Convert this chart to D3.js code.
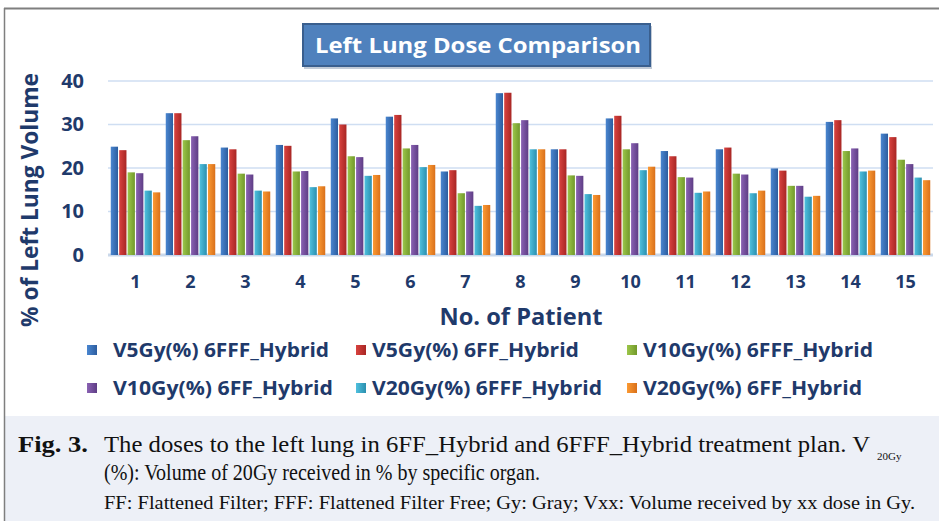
<!DOCTYPE html>
<html>
<head>
<meta charset="utf-8">
<script src="https://cdn.jsdelivr.net/npm/d3@7"></script>
<style>
  body { margin: 0; background: #fff; overflow: hidden; }
  svg { display: block; }
</style>
</head>
<body>
<svg id="chart" width="939" height="521"></svg>
<script>

// patients on the x axis
const patients = ['1', '2', '3', '4', '5', '6', '7', '8', '9', '10', '11', '12', '13', '14', '15']

const seriesNames = [
    'V5Gy(%) 6FFF_Hybrid', 'V5Gy(%) 6FF_Hybrid', 'V10Gy(%) 6FFF_Hybrid',
    'V10Gy(%) 6FF_Hybrid', 'V20Gy(%) 6FFF_Hybrid', 'V20Gy(%) 6FF_Hybrid'
]

const v5FFF = [24.9, 32.6, 24.7, 25.3, 31.4, 31.8, 19.2, 37.2, 24.3, 31.4, 23.9, 24.3, 19.9, 30.6, 27.9]
const v5FF = [24.1, 32.6, 24.3, 25.1, 30.0, 32.2, 19.5, 37.3, 24.3, 32.0, 22.7, 24.7, 19.4, 31.0, 27.1]
const v10FFF = [19.0, 26.4, 18.7, 19.2, 22.7, 24.5, 14.2, 30.3, 18.3, 24.3, 17.9, 18.7, 15.9, 23.9, 21.9]
const v10FF = [18.8, 27.3, 18.5, 19.3, 22.5, 25.3, 14.6, 31.0, 18.2, 25.7, 17.8, 18.5, 15.9, 24.5, 20.9]
const v20FFF = [14.8, 20.9, 14.8, 15.6, 18.2, 20.2, 11.3, 24.3, 14.0, 19.5, 14.3, 14.2, 13.4, 19.2, 17.8]
const v20FF = [14.4, 20.9, 14.6, 15.8, 18.4, 20.7, 11.5, 24.3, 13.8, 20.3, 14.6, 14.8, 13.6, 19.4, 17.2]

const yTicks = [0, 10, 20, 30, 40]

const seriesValues = [v5FFF, v5FF, v10FFF, v10FF, v20FFF, v20FF]

// light / dark ends of each bar's gradient
const colorsLight = ['#4a86d0', '#d8423f', '#9cc64a', '#8a62b3', '#4fc0de', '#fb9a33']
const colorsDark = ['#2c5d9f', '#a82624', '#72992b', '#5e3d85', '#2b8fae', '#d9701a']

const textColor = '#1f3a6b'

const svg = d3.select('#chart')

// frame of the figure
svg.append('rect')
    .attr('x', 5).attr('y', 416)
    .attr('width', 934).attr('height', 105)
    .attr('fill', '#edf0f7')

svg.append('line')
    .attr('x1', 4).attr('x2', 939).attr('y1', 8.5).attr('y2', 8.5)
    .attr('stroke', '#7f7f7f').attr('stroke-width', 2)

svg.append('line')
    .attr('x1', 4.5).attr('x2', 4.5).attr('y1', 8).attr('y2', 521)
    .attr('stroke', '#7f7f7f').attr('stroke-width', 1.5)

const defs = svg.append('defs')
seriesNames.forEach((s, i) => {
    const grad = defs.append('linearGradient')
        .attr('id', 'grad' + i)
        .attr('x1', '0%').attr('x2', '100%').attr('y1', '0%').attr('y2', '0%')
    grad.append('stop').attr('offset', '0%').attr('stop-color', colorsLight[i])
    grad.append('stop').attr('offset', '100%').attr('stop-color', colorsDark[i])
})

const margin = { top: 81, left: 108, right: 6 }
const width = 939
const innerWidth = width - margin.left - margin.right
const innerHeight = 255 - margin.top

const xScale = d3.scaleBand()
    .domain(patients)
    .range([0, innerWidth])
    .paddingInner(0.1)
    .paddingOuter(0.05)

const subScale = d3.scaleBand()
    .domain(d3.range(seriesNames.length))
    .range([0, xScale.bandwidth()])
    .paddingInner(0.14)

const yScale = d3.scaleLinear()
    .domain([0, 40])
    .range([innerHeight, 0])

const g = svg.append('g')
    .attr('transform', 'translate(' + margin.left + ',' + margin.top + ')')

// grid lines
g.selectAll('.grid')
    .data(yTicks)
    .enter()
    .append('line')
    .attr('x1', 0).attr('x2', innerWidth)
    .attr('y1', d => yScale(d)).attr('y2', d => yScale(d))
    .attr('stroke', d => d === 0 ? '#cad8ea' : '#cfdef2')
    .attr('stroke-width', d => d === 0 ? 3 : 1.5)

// y axis labels
const yAxis = d3.axisLeft(yScale).tickValues(yTicks).tickSize(0).tickPadding(24)
g.append('g').call(yAxis)
    .call(a => a.select('.domain').remove())
    .selectAll('text')
    .style('font-family', 'Open Sans')
    .style('font-weight', 'bold')
    .style('font-size', '20px')
    .attr('fill', textColor)

// x axis labels
const xAxis = d3.axisBottom(xScale).tickSize(0).tickPadding(20)
g.append('g').call(xAxis)
    .attr('transform', 'translate(0,' + innerHeight + ')')
    .call(a => a.select('.domain').remove())
    .selectAll('text')
    .style('font-family', 'Open Sans')
    .style('font-weight', 'bold')
    .style('font-size', '18px')
    .attr('fill', textColor)

// bars
const groups = g.selectAll('.patient')
    .data(patients)
    .enter()
    .append('g')
    .attr('transform', d => 'translate(' + xScale(d) + ',0)')

groups.selectAll('rect')
    .data((p, pi) => seriesValues.map((vals, si) => ({ si: si, value: vals[pi] })))
    .enter()
    .append('rect')
    .attr('x', d => subScale(d.si))
    .attr('y', d => yScale(d.value))
    .attr('width', subScale.bandwidth())
    .attr('height', d => innerHeight - yScale(d.value))
    .attr('fill', d => 'url(#grad' + d.si + ')')

// title box
svg.append('rect')
    .attr('x', 304).attr('y', 26)
    .attr('width', 348).attr('height', 43)
    .attr('fill', '#9aa9bd').attr('opacity', 0.6)
svg.append('rect')
    .attr('x', 303).attr('y', 24)
    .attr('width', 347).attr('height', 42)
    .attr('fill', '#4f81bd')
    .attr('stroke', '#3a5f8e').attr('stroke-width', 2)

svg.append('text')
    .attr('x', 315).attr('y', 53)
    .attr('textLength', 326).attr('lengthAdjust', 'spacingAndGlyphs')
    .style('font-family', 'Open Sans')
    .style('font-weight', 'bold')
    .style('font-size', '22px')
    .attr('fill', '#fff')
    .text('Left Lung Dose Comparison')

// axis titles
svg.append('text')
    .attr('transform', 'translate(38,200) rotate(-90)')
    .attr('text-anchor', 'middle')
    .attr('textLength', 254).attr('lengthAdjust', 'spacingAndGlyphs')
    .style('font-family', 'Open Sans')
    .style('font-weight', 'bold')
    .style('font-size', '24px')
    .attr('fill', textColor)
    .text('% of Left Lung Volume')

svg.append('text')
    .attr('x', 521).attr('y', 325)
    .attr('text-anchor', 'middle')
    .attr('textLength', 163).attr('lengthAdjust', 'spacingAndGlyphs')
    .style('font-family', 'Open Sans')
    .style('font-weight', 'bold')
    .style('font-size', '23px')
    .attr('fill', textColor)
    .text('No. of Patient')

// legend
const legendX = [87, 356, 627]
const legendY = [350, 388]
const legendTextLen = [216, 207, 230, 220, 230, 219]

const legend = svg.selectAll('.legend')
    .data(seriesNames)
    .enter()
    .append('g')
    .attr('transform', (d, i) => 'translate(' + legendX[i % 3] + ',' + legendY[Math.floor(i / 3)] + ')')

legend.append('rect')
    .attr('x', 0).attr('y', -5)
    .attr('width', 10).attr('height', 10)
    .attr('fill', (d, i) => 'url(#grad' + i + ')')

legend.append('text')
    .attr('x', (d, i) => i % 3 === 0 ? 26 : 16)
    .attr('y', 7)
    .attr('textLength', (d, i) => legendTextLen[i])
    .attr('lengthAdjust', 'spacingAndGlyphs')
    .style('font-family', 'Open Sans')
    .style('font-weight', 'bold')
    .style('font-size', '19px')
    .attr('fill', textColor)
    .text(d => d)

// caption
const captionFont = 'Liberation Serif'

svg.append('text')
    .attr('x', 18).attr('y', 452)
    .attr('textLength', 70).attr('lengthAdjust', 'spacingAndGlyphs')
    .style('font-family', captionFont)
    .style('font-weight', 'bold')
    .style('font-size', '24px')
    .attr('fill', '#111')
    .text('Fig. 3.')

svg.append('text')
    .attr('x', 104).attr('y', 452)
    .attr('textLength', 766).attr('lengthAdjust', 'spacingAndGlyphs')
    .style('font-family', captionFont)
    .style('font-size', '24px')
    .attr('fill', '#111')
    .text('The doses to the left lung in 6FF_Hybrid and 6FFF_Hybrid treatment plan. V')

svg.append('text')
    .attr('x', 877).attr('y', 460)
    .style('font-family', captionFont)
    .style('font-size', '11px')
    .attr('fill', '#111')
    .text('20Gy')

svg.append('text')
    .attr('x', 104).attr('y', 480)
    .attr('textLength', 436).attr('lengthAdjust', 'spacingAndGlyphs')
    .style('font-family', captionFont)
    .style('font-size', '23px')
    .attr('fill', '#111')
    .text('(%): Volume of 20Gy received in % by specific organ.')

svg.append('text')
    .attr('x', 104).attr('y', 509)
    .attr('textLength', 811).attr('lengthAdjust', 'spacingAndGlyphs')
    .style('font-family', captionFont)
    .style('font-size', '19px')
    .attr('fill', '#111')
    .text('FF: Flattened Filter; FFF: Flattened Filter Free; Gy: Gray; Vxx: Volume received by xx dose in Gy.')

</script>
</body>
</html>
